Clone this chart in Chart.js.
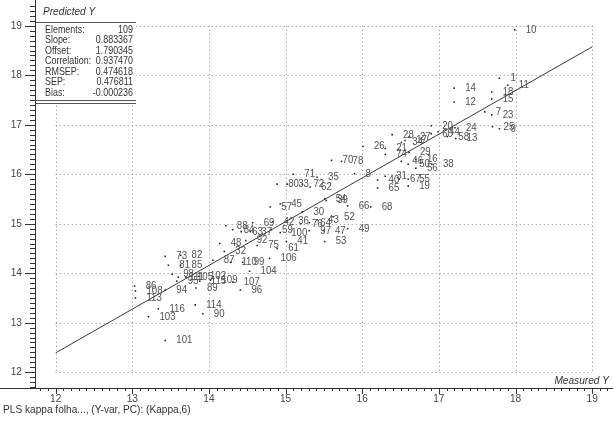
<!DOCTYPE html>
<html><head><meta charset="utf-8">
<script src="https://cdn.jsdelivr.net/npm/chart.js@4"></script>
<style>html,body{margin:0;padding:0;background:#fff}#wrap{width:613px;height:422px;position:relative}</style>
</head><body><div id="wrap"><canvas id="c" width="613" height="422"></canvas></div>
<script>
const pointLabels = ['10','1','11','14','18','15','12','7','23','25','9','20','60','44','24','58','13','28','27','34','17','26','21','74','29','16','46','50','56','38','8','40','31','67','55','65','19','70','78','71','35','80','33','72','62','57','45','54','39','66','68','30','52','36','76','64','43','42','59','100','97','47','49','41','53','61','75','92','69','88','84','63','37','48','32','87','110','99','106','104','82','73','81','85','98','111','105','102','115','95','109','89','107','96','94','86','108','113','116','103','101','114','90'];
const measuredY = [17.99,17.79,17.90,17.20,17.69,17.69,17.20,17.60,17.69,17.70,17.79,16.90,16.90,16.99,17.21,17.11,17.22,16.39,16.61,16.51,16.56,16.01,16.30,16.30,16.61,16.70,16.51,16.60,16.70,16.91,15.90,16.20,16.30,16.48,16.60,16.20,16.60,15.60,15.73,15.10,15.41,14.89,15.02,15.22,15.32,14.80,14.93,15.51,15.53,15.81,16.11,15.22,15.62,15.02,15.20,15.31,15.41,14.83,14.81,14.93,15.31,15.50,15.81,15.01,15.51,14.89,14.63,14.48,14.57,14.22,14.31,14.42,14.54,14.14,14.20,14.05,14.28,14.44,14.79,14.53,13.63,13.43,13.47,13.63,13.52,13.60,13.70,13.87,13.88,13.58,14.02,13.83,14.31,14.41,13.43,13.03,13.04,13.04,13.34,13.21,13.43,13.82,13.92];
const predictedY = [18.92,17.94,17.80,17.74,17.66,17.52,17.46,17.26,17.20,16.96,16.92,16.98,16.82,16.86,16.94,16.76,16.72,16.80,16.75,16.64,16.68,16.56,16.52,16.40,16.44,16.30,16.26,16.20,16.12,16.20,16.01,15.88,15.96,15.90,15.90,15.72,15.76,16.28,16.26,16.00,15.94,15.80,15.80,15.80,15.74,15.34,15.40,15.50,15.47,15.36,15.34,15.24,15.14,15.06,15.00,15.02,15.08,15.04,14.88,14.82,14.86,14.86,14.90,14.64,14.64,14.50,14.56,14.66,15.02,14.96,14.88,14.84,14.84,14.60,14.44,14.26,14.22,14.22,14.30,14.04,14.36,14.34,14.16,14.16,13.98,13.92,13.92,13.94,13.84,13.84,13.86,13.70,13.82,13.66,13.66,13.74,13.64,13.50,13.28,13.12,12.64,13.36,13.18];
const xTickValues = [12,13,14,15,16,17,18,19];
const yTickValues = [12,13,14,15,16,17,18,19];
const statNames = ['Elements:','Slope:','Offset:','Correlation:','RMSEP:','SEP:','Bias:'];
const statValues = ['109','0.883367','1.790345','0.937470','0.474618','0.476811','-0.000236'];
const fitSlope = 0.883367;
const fitOffset = 1.790345;
const fitRange = [12, 19];
const xTitle = 'Measured Y';
const yTitle = 'Predicted Y';
const footerText = 'PLS kappa folha..., (Y-var, PC): (Kappa,6)';

const FONT = "'Liberation Sans', Arial, sans-serif";

const points = measuredY.map((x, i) => ({x: x, y: predictedY[i]}));
const fitLine = fitRange.map(x => ({x: x, y: fitOffset + fitSlope * x}));

function narrowText(ctx, text, x, y, align, sx) {
  ctx.save();
  ctx.translate(x, y);
  ctx.scale(sx, 1);
  ctx.textAlign = align;
  ctx.fillText(text, 0, 0);
  ctx.restore();
}

const decor = {
  id: 'decor',
  beforeDatasetsDraw(chart) {
    const ctx = chart.ctx, xs = chart.scales.x, ys = chart.scales.y;
    const gMin = yTickValues[0], gMax = yTickValues[yTickValues.length - 1];
    const hMin = xTickValues[0], hMax = xTickValues[xTickValues.length - 1];
    ctx.save();
    ctx.strokeStyle = '#8a8a8a';
    ctx.lineWidth = 1;
    ctx.setLineDash([1, 3]);
    xTickValues.forEach(v => {
      const px = Math.round(xs.getPixelForValue(v)) + 0.5;
      ctx.beginPath();
      ctx.moveTo(px, ys.getPixelForValue(gMax));
      ctx.lineTo(px, ys.getPixelForValue(gMin));
      ctx.stroke();
    });
    yTickValues.forEach(v => {
      const py = Math.round(ys.getPixelForValue(v)) + 0.5;
      ctx.beginPath();
      ctx.moveTo(xs.getPixelForValue(hMin), py);
      ctx.lineTo(xs.getPixelForValue(hMax), py);
      ctx.stroke();
    });
    ctx.restore();
  },
  afterDatasetsDraw(chart) {
    const ctx = chart.ctx, xs = chart.scales.x, ys = chart.scales.y;
    const area = chart.chartArea;
    ctx.save();
    // point labels
    ctx.font = '10.5px ' + FONT;
    ctx.fillStyle = '#505050';
    ctx.textBaseline = 'middle';
    pointLabels.forEach((lab, i) => {
      const px = xs.getPixelForValue(measuredY[i]);
      const py = ys.getPixelForValue(predictedY[i]);
      narrowText(ctx, lab, px + 11, py, 'left', 0.92);
    });
    // stats box
    const bx0 = 36, bx1 = 136, by1 = 103;
    ctx.fillStyle = '#fff';
    ctx.fillRect(bx0, 0, bx1 - bx0, by1 + 1);
    ctx.strokeStyle = '#555';
    ctx.lineWidth = 1;
    ctx.beginPath();
    ctx.moveTo(bx0, 22.5); ctx.lineTo(bx1, 22.5);
    ctx.moveTo(bx0, by1 - 2.5); ctx.lineTo(bx1, by1 - 2.5);
    ctx.moveTo(bx0, by1 + 0.5); ctx.lineTo(bx1, by1 + 0.5);
    ctx.stroke();
    ctx.fillStyle = '#333';
    ctx.font = 'italic 11px ' + FONT;
    narrowText(ctx, yTitle, 43, 12, 'left', 0.92);
    ctx.font = '10.5px ' + FONT;
    statNames.forEach((n, i) => {
      const y = 30 + i * 10.5;
      narrowText(ctx, n, 45, y, 'left', 0.85);
      narrowText(ctx, statValues[i], 133, y, 'right', 0.85);
    });
    // axes lines
    ctx.strokeStyle = '#333';
    ctx.beginPath();
    ctx.moveTo(35.5, 0); ctx.lineTo(35.5, area.bottom);
    ctx.moveTo(0, area.bottom + 0.5); ctx.lineTo(613, area.bottom + 0.5);
    ctx.stroke();
    // ticks
    ctx.beginPath();
    for (let k = Math.ceil(ys.min * 10); k <= Math.floor(ys.max * 10); k++) {
      const py = Math.round(ys.getPixelForValue(k / 10)) + 0.5;
      const major = k % 10 === 0;
      ctx.moveTo(major ? 25 : 30, py); ctx.lineTo(35, py);
    }
    for (let k = Math.ceil(xs.min * 10); k <= Math.floor(xs.max * 10); k++) {
      const px = Math.round(xs.getPixelForValue(k / 10)) + 0.5;
      const major = k % 10 === 0;
      ctx.moveTo(px, area.bottom + 1); ctx.lineTo(px, area.bottom + (major ? 6 : 3));
    }
    ctx.stroke();
    ctx.fillStyle = '#444';
    ctx.font = '11px ' + FONT;
    ctx.textBaseline = 'middle';
    yTickValues.forEach(v => narrowText(ctx, String(v), 22, ys.getPixelForValue(v), 'right', 0.92));
    xTickValues.forEach(v => narrowText(ctx, String(v), xs.getPixelForValue(v), area.bottom + 11, 'center', 0.92));
    ctx.font = 'italic 11px ' + FONT;
    ctx.fillStyle = '#333';
    narrowText(ctx, xTitle, 609, area.bottom - 7, 'right', 0.92);
    ctx.font = '11px ' + FONT;
    narrowText(ctx, footerText, 3, 410, 'left', 0.92);
    ctx.restore();
  }
};

new Chart(document.getElementById('c'), {
  type: 'scatter',
  data: {
    datasets: [
      {data: points, pointRadius: 1.1, pointStyle: 'rect', pointBackgroundColor: '#222', pointBorderWidth: 0, showLine: false},
      {data: fitLine, showLine: true, borderColor: '#3a3a3a', borderWidth: 1, pointRadius: 0, fill: false}
    ]
  },
  options: {
    responsive: false,
    devicePixelRatio: 1,
    animation: false,
    layout: {padding: {left: 35, right: 0, top: 0, bottom: 34}},
    plugins: {legend: {display: false}, tooltip: {enabled: false}},
    scales: {
      x: {type: 'linear', min: 11.73, max: 19.22, display: false},
      y: {type: 'linear', min: 11.68, max: 19.44, display: false}
    }
  },
  plugins: [decor]
});
</script>
</body></html>
